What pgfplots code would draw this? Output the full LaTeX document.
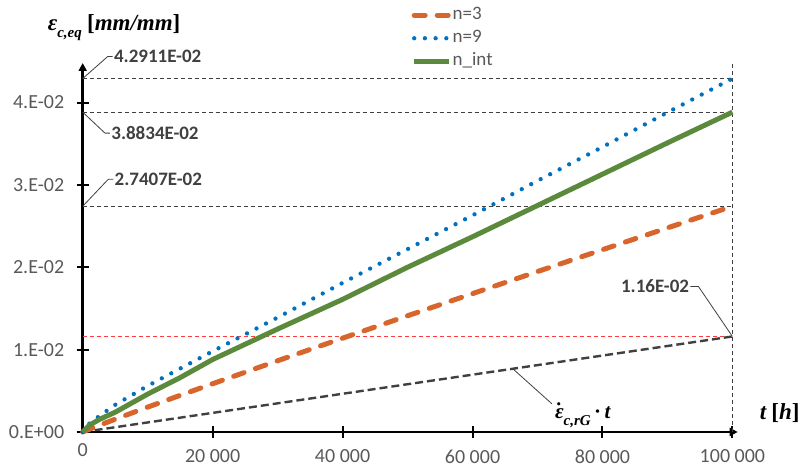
\documentclass[border=0pt]{standalone}
\usepackage{fontspec}
\setmainfont{Carlito}
\newfontfamily\symfont{Liberation Serif}
\usepackage{pgfplots}
\pgfplotsset{compat=1.18}
\usetikzlibrary{arrows.meta}

\definecolor{cOrange}{HTML}{D8652C}
\definecolor{cBlue}{HTML}{0070C0}
\definecolor{cGreen}{HTML}{5B8A3C}
\definecolor{cDark}{HTML}{404040}
\definecolor{cTick}{HTML}{595959}
\definecolor{cRed}{HTML}{FF3B3B}

\pgfplotstableread{
t eps
0 0
1000 0.00033
2500 0.00080
5000 0.00155
10000 0.00302
15000 0.00445
20000 0.00586
30000 0.00865
40000 0.01139
50000 0.01411
60000 0.01680
70000 0.01948
80000 0.02213
90000 0.02478
100000 0.027407
}\nthree

\pgfplotstableread{
t eps
0 0
1000 0.0010
2500 0.0019
5000 0.0033
10000 0.0056
15000 0.0077
20000 0.0098
30000 0.0139
40000 0.0181
50000 0.0222
60000 0.0263
70000 0.0305
80000 0.0346
90000 0.0388
100000 0.042911
}\nnine

\pgfplotstableread{
t eps
0 0
1000 0.0008
2500 0.0015
5000 0.0024
10000 0.0046
15000 0.0066
20000 0.0088
30000 0.0125
40000 0.0161
50000 0.0200
60000 0.0237
70000 0.0275
80000 0.0313
90000 0.0351
100000 0.038834
}\nint

% bold italic symbols set in text mode
\newcommand{\sym}[1]{{\symfont\bfseries\itshape #1}}
\newcommand{\sub}[1]{\raisebox{-0.3em}{\fontsize{15}{16}\selectfont\symfont\bfseries\itshape #1}}
\newcommand{\up}[1]{{\symfont\bfseries #1}}

\begin{document}
\begin{tikzpicture}
\useasboundingbox (-82.7pt,-41pt) rectangle (718.3pt,432pt);
\begin{axis}[
  scale only axis, width=655pt, height=369pt,
  xmin=0, xmax=100815, ymin=0, ymax=0.0448,
  scaled x ticks=false, scaled y ticks=false,
  axis lines=left,
  axis line style={line width=2.4pt, -{Triangle[length=8pt,width=8pt]}},
  xtick={20000,40000,60000,80000,100000},
  xticklabels={20 000,40 000,60 000,80 000,100 000},
  extra x ticks={0}, extra x tick labels={0},
  extra x tick style={major tick length=0pt},
  ytick={0,0.01,0.02,0.03,0.04},
  yticklabels={0.E+00,1.E-02,2.E-02,3.E-02,4.E-02},
  tick align=center, major tick length=12pt,
  tick style={line width=2pt, black},
  ticklabel style={font=\fontsize{20}{22}\selectfont, text=cTick},
  xticklabel style={yshift=-8pt},
  yticklabel style={xshift=-9pt},
  clip=false,
  legend style={at={(0.502,1.153)}, anchor=north west, draw=none, fill=none,
    inner sep=0pt, font=\fontsize{19}{20}\selectfont, text=cTick, row sep=6pt,
    nodes={inner sep=1pt, text height=12pt, text depth=3pt}},
  legend cell align=left,
  legend image code/.code={\draw[#1] (0pt,0pt) -- (35pt,0pt);},
]
% reference levels
\addplot[cDark, line width=1.1pt, dash pattern=on 4pt off 3pt, forget plot] coordinates {(0,0.042911) (100000,0.042911)};
\addplot[cDark, line width=1.1pt, dash pattern=on 4pt off 3pt, forget plot] coordinates {(0,0.038834) (100000,0.038834)};
\addplot[cDark, line width=1.1pt, dash pattern=on 4pt off 3pt, forget plot] coordinates {(0,0.027407) (100000,0.027407)};
\addplot[cRed, line width=1.1pt, dash pattern=on 4pt off 3pt, forget plot] coordinates {(0,0.0116) (100000,0.0116)};
\addplot[cDark, line width=1.1pt, dash pattern=on 4pt off 3pt, forget plot] coordinates {(100000,0) (100000,0.0448)};
% secondary creep rate times t
\addplot[cDark, line width=2.4pt, dash pattern=on 8pt off 4pt, forget plot] coordinates {(0,0) (100000,0.0116)};
% creep curves
\addplot[cOrange, line width=5pt, line cap=round, dash pattern=on 11pt off 12pt] table[x=t,y=eps] {\nthree};
\addlegendentry{n=3}
\addplot[cBlue, line width=4.3pt, line cap=round, dash pattern=on 0pt off 10.7pt] table[x=t,y=eps] {\nnine};
\addlegendentry{n=9}
\addplot[cGreen, line width=5pt] table[x=t,y=eps] {\nint};
\addlegendentry{n\_int}
% anchor points for the callouts
\coordinate (cA) at (axis cs:0,0.042911);
\coordinate (cB) at (axis cs:0,0.038834);
\coordinate (cC) at (axis cs:0,0.027407);
\coordinate (cD) at (axis cs:100000,0.0116);
\coordinate (cE) at (axis cs:66200,0.00768);
\end{axis}
% value callouts
\tikzset{callout/.style={inner sep=1pt, font=\bfseries\fontsize{19}{20}\selectfont, text=cDark}}
\draw[cDark, line width=0.8pt] (cA) -- ++(25pt,22pt) -- ++(5pt,0pt) node[callout, anchor=west] {4.2911E-02};
\draw[cDark, line width=0.8pt] (cB) -- ++(22.3pt,-21pt) -- ++(5pt,0pt) node[callout, anchor=west] {3.8834E-02};
\draw[cDark, line width=0.8pt] (cC) -- ++(25.6pt,27pt) -- ++(5pt,0pt) node[callout, anchor=west] {2.7407E-02};
\draw[cDark, line width=0.8pt] (cD) -- ++(-34pt,50pt) -- ++(-8pt,0pt) node[callout, anchor=east] {1.16E-02};
\draw[cDark, line width=0.8pt] (cE) -- ++(39pt,-35pt) coordinate (eEnd);
\node[anchor=north west, inner sep=0pt, font=\fontsize{21}{22}\selectfont] at ([xshift=3pt,yshift=1pt]eEnd)
  {\sym{\rlap{\kern-0.04em\raisebox{0.05em}{˙}}ε}\sub{c,rG}\,\up{·}\,\sym{t}};
% axis titles
\node[anchor=west, inner sep=0pt, font=\fontsize{23}{24}\selectfont] at (-35pt,404pt)
  {\sym{ε}\sub{c,eq}\ \up{[}\sym{mm/mm}\up{]}};
\node[inner sep=0pt, font=\fontsize{23}{24}\selectfont] at (697pt,18.7pt)
  {\sym{t}\ \up{[}\sym{h}\up{]}};
\end{tikzpicture}
\end{document}
